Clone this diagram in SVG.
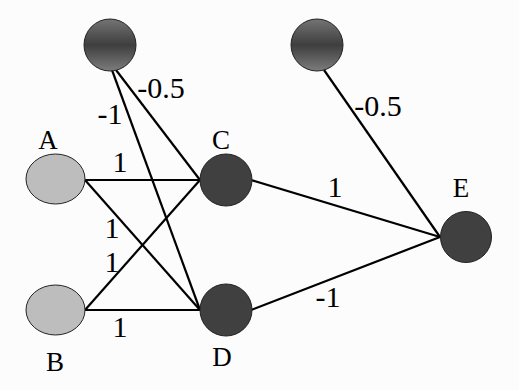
<svg xmlns="http://www.w3.org/2000/svg" width="519" height="390" viewBox="0 0 519 390">
<defs>
<linearGradient id="bias" x1="0" y1="0" x2="0" y2="1">
<stop offset="0" stop-color="#747474"/>
<stop offset="0.5" stop-color="#3e3e3e"/>
<stop offset="1" stop-color="#7c7c7c"/>
</linearGradient>
<style>
.edge{stroke:#000;stroke-width:2.2;fill:none}
.in{fill:#bdbdbd;stroke:#222;stroke-width:1}
.hid{fill:#404040;stroke:#222;stroke-width:1}
.b{fill:url(#bias);stroke:#222;stroke-width:1}
text{font-family:'Liberation Serif','Times New Roman','DejaVu Serif',serif;fill:#000;text-anchor:middle}
.lbl{font-size:27px}
.w{font-size:30px}
</style>
</defs>
<rect width="519" height="390" fill="#fcfcfc"/>
<g id="connectors">
<line class="edge" x1="85" y1="180" x2="200" y2="180"/>
<line class="edge" x1="85" y1="180" x2="200" y2="310"/>
<line class="edge" x1="85" y1="310" x2="200" y2="180"/>
<line class="edge" x1="85" y1="310" x2="200" y2="310"/>
<line class="edge" x1="116" y1="70" x2="200" y2="180"/>
<line class="edge" x1="112" y1="70" x2="200" y2="310"/>
<line class="edge" x1="251" y1="180" x2="440" y2="237"/>
<line class="edge" x1="251" y1="310" x2="440" y2="237"/>
<line class="edge" x1="324" y1="70" x2="440" y2="237"/>
<text class="w" x="120" y="172">1</text>
<text class="w" x="110" y="124">-1</text>
<text class="w" x="161" y="98">-0.5</text>
<text class="w" x="112" y="238">1</text>
<text class="w" x="112" y="272">1</text>
<text class="w" x="120" y="337">1</text>
<text class="w" x="378" y="116">-0.5</text>
<text class="w" x="335" y="197">1</text>
<text class="w" x="328" y="307">-1</text>
</g>
<g id="bias1"><circle class="b" cx="110" cy="45" r="26"/></g>
<g id="bias2"><circle class="b" cx="317" cy="45" r="26"/></g>
<g id="A"><ellipse class="in" cx="55.5" cy="179" rx="29.5" ry="25"/><text class="lbl" x="48" y="149">A</text></g>
<g id="B"><ellipse class="in" cx="55.5" cy="310" rx="29.5" ry="25"/><text class="lbl" x="55" y="371">B</text></g>
<g id="C"><circle class="hid" cx="226" cy="180" r="26"/><text class="lbl" x="221" y="149">C</text></g>
<g id="D"><circle class="hid" cx="226" cy="310" r="26"/><text class="lbl" x="222" y="366">D</text></g>
<g id="E"><circle class="hid" cx="466" cy="237" r="25.5"/><text class="lbl" x="461" y="197">E</text></g>
</svg>
